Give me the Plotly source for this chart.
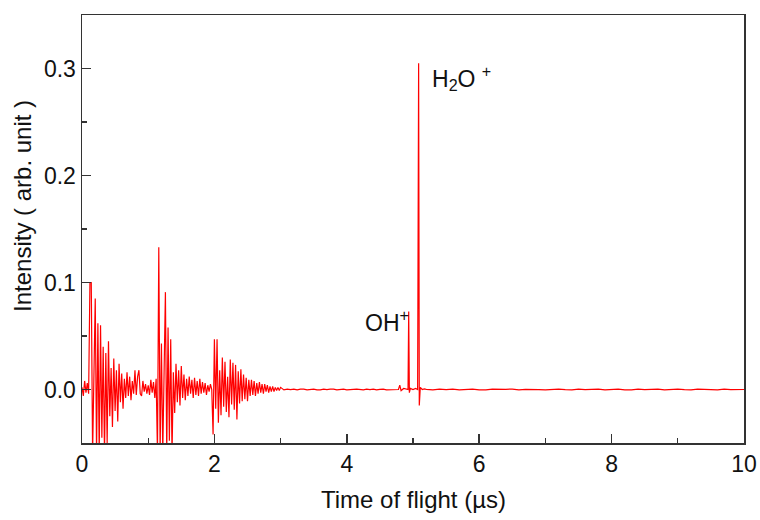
import plotly.graph_objects as go

# ---- data (time in µs, intensity in arb. unit) ----
burst1_time = [0.00, 0.02, 0.04, 0.06, 0.08, 0.10, 0.12, 0.14, 0.16, 0.18,
               0.20, 0.22, 0.24, 0.26, 0.28, 0.30, 0.32, 0.34, 0.36, 0.38,
               0.40, 0.42, 0.44, 0.46, 0.48, 0.50, 0.52, 0.54, 0.56, 0.58,
               0.60, 0.62, 0.64, 0.66, 0.68, 0.70, 0.72, 0.74, 0.76, 0.78,
               0.80, 0.82, 0.84, 0.86, 0.88, 0.90, 0.92, 0.94, 0.96, 0.98, 1.00]
burst1_int = [0.002, -0.006, 0.008, -0.003, 0.006, -0.004, 0.100, 0.100, -0.060, 0.020,
              0.085, -0.060, 0.062, -0.060, 0.060, -0.045, 0.040, -0.060, 0.034, -0.050,
              0.045, -0.025, 0.020, -0.035, 0.029, -0.020, 0.018, -0.030, 0.024, -0.012,
              0.015, -0.018, 0.010, -0.008, 0.016, -0.006, 0.012, -0.010, 0.008, -0.004,
              0.018, -0.005, 0.012, 0.018, -0.004, -0.006, 0.008, -0.002, 0.005, -0.004, 0.004]

burst2_time = [1.02, 1.04, 1.06, 1.08, 1.10, 1.12, 1.14, 1.16, 1.18, 1.20,
               1.22, 1.24, 1.26, 1.28, 1.30, 1.32, 1.34, 1.36, 1.38, 1.40,
               1.42, 1.44, 1.46, 1.48, 1.50, 1.52, 1.54, 1.56, 1.58, 1.60,
               1.62, 1.64, 1.66, 1.68, 1.70, 1.72, 1.74, 1.76, 1.78, 1.80,
               1.82, 1.84, 1.86, 1.88, 1.90, 1.92, 1.94, 1.96]
burst2_int = [-0.005, 0.009, -0.003, 0.007, -0.008, 0.010, -0.060, 0.133, -0.060, 0.043,
              -0.060, 0.034, 0.091, -0.060, 0.058, -0.048, 0.047, -0.060, 0.016, -0.022,
              0.024, -0.012, 0.018, -0.015, 0.022, -0.008, 0.014, -0.010, 0.010, -0.006,
              0.012, -0.004, 0.009, -0.008, 0.011, -0.005, 0.008, -0.006, 0.010, -0.004,
              0.007, -0.003, 0.006, -0.005, 0.004, -0.002, 0.005, 0.000]

burst3_time = [1.98, 2.00, 2.02, 2.04, 2.06, 2.08, 2.10, 2.12, 2.14, 2.16,
               2.18, 2.20, 2.22, 2.24, 2.26, 2.28, 2.30, 2.32, 2.34, 2.36,
               2.38, 2.40, 2.42, 2.44, 2.46, 2.48, 2.50, 2.52, 2.54, 2.56,
               2.58, 2.60, 2.62, 2.64, 2.66, 2.68, 2.70, 2.72, 2.74, 2.76,
               2.78, 2.80, 2.82, 2.84, 2.86, 2.88, 2.90, 2.92, 2.94, 2.96, 2.98, 3.00]
burst3_int = [-0.042, 0.047, -0.018, 0.047, -0.031, 0.018, -0.024, 0.030, -0.016, 0.026,
              -0.021, 0.012, -0.026, 0.028, -0.014, 0.025, -0.019, 0.023, -0.028, 0.017,
              -0.013, 0.019, -0.011, 0.014, -0.009, 0.011, -0.011, 0.009, -0.006, 0.009,
              -0.005, 0.008, -0.006, 0.006, -0.004, 0.007, -0.003, 0.005, -0.004, 0.005,
              -0.002, 0.004, -0.003, 0.003, -0.002, 0.003, -0.002, 0.002, -0.001, 0.002, -0.001, 0.002]

quiet_time = [3.05, 3.10, 3.15, 3.20, 3.25, 3.30, 3.35, 3.40, 3.45, 3.50,
              3.55, 3.60, 3.65, 3.70, 3.75, 3.80, 3.85, 3.90, 3.95, 4.00,
              4.05, 4.10, 4.15, 4.20, 4.25, 4.30, 4.35, 4.40, 4.45, 4.50,
              4.55, 4.60, 4.65, 4.70, 4.75]
quiet_int = [-0.0004, 0.0004, -0.0002, 0.0003, -0.0004, 0.0003, 0.0004, -0.0003, 0.0002, 0.0004,
             -0.0003, -0.0004, 0.0003, -0.0001, 0.0003, 0.0004, -0.0004, 0.0001, 0.0003, -0.0003,
             -0.0004, 0.0002, 0.0004, -0.0002, -0.0003, 0.0004, -0.0001, 0.0003, -0.0004, 0.0002,
             0.0004, -0.0003, -0.0003, 0.0004, 0.0000]

peaks_time = [4.78, 4.80, 4.82, 4.86, 4.90, 4.925, 4.935, 4.945, 4.96, 5.00,
              5.04, 5.07, 5.085, 5.095, 5.11, 5.14, 5.17]
peaks_int = [0.000, 0.004, -0.001, 0.001, 0.000, 0.000, 0.073, -0.003, 0.001, 0.000,
             0.001, 0.000, 0.305, -0.015, 0.002, 0.000, 0.0005]

tail_time = [5.2, 5.3, 5.4, 5.5, 5.6, 5.7, 5.8, 5.9, 6.0, 6.1,
             6.2, 6.3, 6.4, 6.5, 6.6, 6.7, 6.8, 6.9, 7.0, 7.1,
             7.2, 7.3, 7.4, 7.5, 7.6, 7.7, 7.8, 7.9, 8.0, 8.1,
             8.2, 8.3, 8.4, 8.5, 8.6, 8.7, 8.8, 8.9, 9.0, 9.1,
             9.2, 9.3, 9.4, 9.5, 9.6, 9.7, 9.8, 9.9, 10.0]
tail_int = [0.0001, -0.0004, 0.0003, -0.0002, 0.0004, -0.0003, 0.0001, 0.0004, -0.0003, -0.0004,
            0.0003, -0.0001, 0.0002, 0.0004, -0.0004, 0.0001, 0.0003, -0.0002, -0.0004, 0.0003,
            0.0004, -0.0001, -0.0003, 0.0004, -0.0002, 0.0001, 0.0004, -0.0004, 0.0002, 0.0003,
            -0.0003, -0.0004, 0.0004, -0.0001, 0.0002, 0.0004, -0.0003, 0.0001, 0.0003, -0.0002,
            -0.0004, 0.0003, 0.0004, -0.0001, -0.0003, 0.0004, -0.0002, 0.0001, 0.0000]

x_tick_vals = [0, 2, 4, 6, 8, 10]
y_tick_vals = [0.0, 0.1, 0.2, 0.3]
y_tick_text = ["0.0", "0.1", "0.2", "0.3"]

time = burst1_time + burst2_time + burst3_time + quiet_time + peaks_time + tail_time
intensity = burst1_int + burst2_int + burst3_int + quiet_int + peaks_int + tail_int

AX = "#333333"
FONT = "Liberation Sans, Arial, sans-serif"

fig = go.Figure()
fig.add_trace(go.Scatter(x=time, y=intensity, mode="lines",
                         line=dict(color="#ff0000", width=1.2), hoverinfo="skip"))

fig.update_layout(
    width=760, height=520,
    margin=dict(l=82, r=16, t=15, b=77),
    paper_bgcolor="white", plot_bgcolor="white",
    showlegend=False,
    font=dict(family=FONT, color="#111111", size=23),
)
fig.update_xaxes(
    range=[0, 10], tickmode="array", tickvals=x_tick_vals, automargin=False,
    ticks="inside", ticklen=9, tickwidth=1.5, tickcolor=AX,
    showline=True, linecolor=AX, linewidth=1.5, mirror=True,
    showgrid=False, zeroline=False,
    minor=dict(dtick=1, tick0=0, ticks="inside", ticklen=5, tickwidth=1.2, tickcolor=AX, showgrid=False),
    tickfont=dict(size=23, family=FONT),
)
fig.update_yaxes(
    range=[-0.05, 0.35], tickmode="array", tickvals=y_tick_vals, ticktext=y_tick_text,
    automargin=False,
    ticks="inside", ticklen=9, tickwidth=1.5, tickcolor=AX,
    showline=True, linecolor=AX, linewidth=1.5, mirror=True,
    showgrid=False, zeroline=False,
    minor=dict(dtick=0.05, tick0=0, ticks="inside", ticklen=5, tickwidth=1.2, tickcolor=AX, showgrid=False),
    tickfont=dict(size=23, family=FONT),
)

fig.add_annotation(text="Time of flight (µs)", xref="paper", yref="paper",
                   x=0.5, y=-0.131, xanchor="center", yanchor="middle",
                   showarrow=False, font=dict(size=24, family=FONT))
fig.add_annotation(text="Intensity ( arb. unit )", xref="paper", yref="paper",
                   x=-0.089, y=0.554, xanchor="center", yanchor="middle",
                   textangle=-90, showarrow=False, font=dict(size=24, family=FONT))

fig.add_annotation(text="H<sub>2</sub>O <sup>+</sup>", x=5.25, y=0.2907,
                   xanchor="left", yanchor="middle", showarrow=False,
                   font=dict(size=23, family=FONT))
fig.add_annotation(text="OH<sup>+</sup>", x=4.24, y=0.0636,
                   xanchor="left", yanchor="middle", showarrow=False,
                   font=dict(size=23, family=FONT))

# remove the page's default body margin so the 760x520 figure fills the window exactly
fig.write_html("out.html", config={"displayModeBar": False, "staticPlot": True},
               post_script="document.body.style.margin='0px';")
